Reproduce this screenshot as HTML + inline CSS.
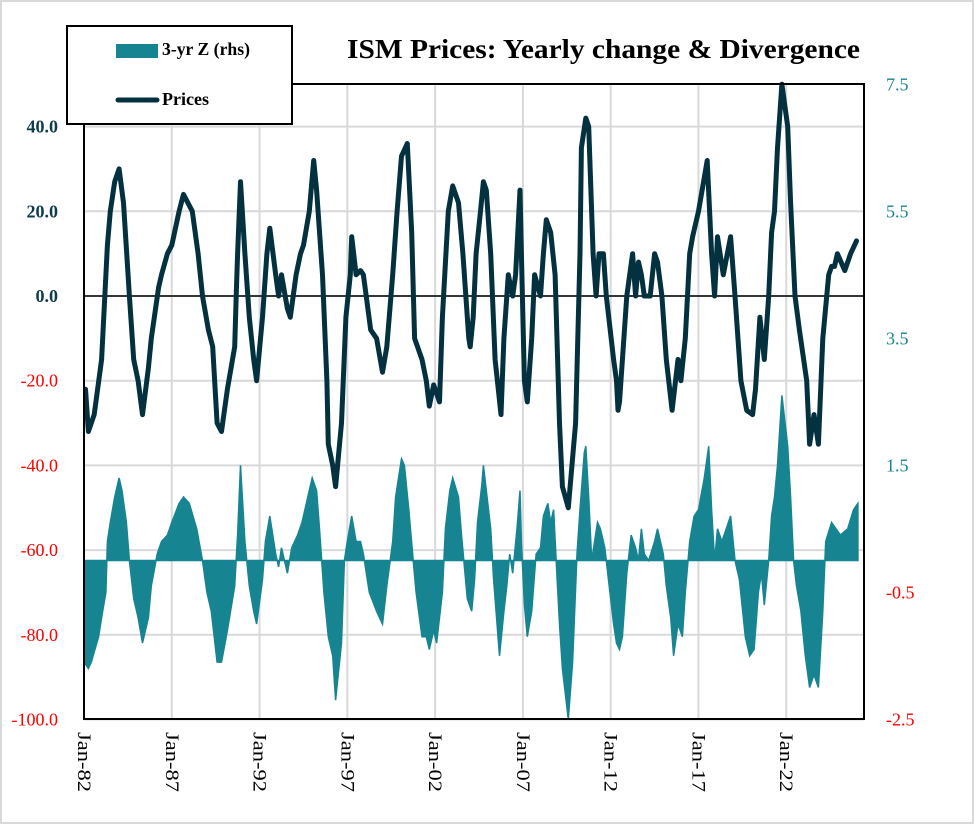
<!DOCTYPE html>
<html><head><meta charset="utf-8"><style>
html,body{margin:0;padding:0;background:#fff;}
#wrap{position:relative;width:974px;height:824px;box-sizing:border-box;border:2px solid #d9d9d9;}
svg{position:absolute;left:0;top:0;}
text{font-family:"Liberation Serif",serif;}
</style></head><body>
<div id="wrap">
<svg id="chart" width="974" height="824">
  <g id="grid"></g>
  <g id="bars"></g>
  <line x1="82" x2="862" y1="294" y2="294" stroke="#000" stroke-width="1.5"/>
  <g id="line"></g>
  <rect x="82" y="82" width="780" height="635" fill="none" stroke="#000" stroke-width="2"/>
  <g id="axes"></g>
  <text x="345" y="56" textLength="513" lengthAdjust="spacingAndGlyphs" font-size="27" font-weight="bold" fill="#000">ISM Prices: Yearly change &amp; Divergence</text>
  <g>
    <rect x="65" y="24" width="225" height="98" fill="#fff" stroke="#000" stroke-width="2"/>
    <rect x="114" y="42" width="42" height="14" fill="#178492"/>
    <text x="160" y="53" font-size="18" font-weight="bold" textLength="88" lengthAdjust="spacingAndGlyphs" fill="#000">3-yr Z (rhs)</text>
    <line x1="116" x2="155" y1="98" y2="98" stroke="#04313f" stroke-width="5" stroke-linecap="round"/>
    <text x="160" y="103" font-size="18" font-weight="bold" fill="#000">Prices</text>
  </g>
</svg>
</div>
<script>
// Prices: months since Jan-1982 and YoY values
const priceMonths=[1,3,7,12,16,18,21,24,27,31,34,37,40,44,46,51,53,57,60,65,68,74,78,81,85,88,91,94,98,103,104,105,107,110,113,116,118,122,125,127,131,133,135,139,141,145,148,150,154,157,159,163,166,167,170,172,176,179,182,183,186,189,191,196,200,204,207,211,214,217,221,224,226,231,234,236,239,243,245,249,252,256,259,263,264,266,268,271,273,275,278,281,285,287,290,293,295,298,299,301,303,306,308,312,314,316,319,322,325,327,331,336,339,340,343,345,348,350,352,355,357,362,364,365,366,371,375,377,379,381,383,387,390,392,395,398,402,406,408,411,414,416,420,426,429,431,433,437,442,445,449,453,457,459,462,465,468,470,472,474,477,481,483,486,489,494,496,499,502,505,509,511,513,515,520,524,528];
const priceValues=[-22,-32,-28,-15,12,20,27,30,22,0,-15,-20,-28,-17,-10,2,5,10,12,20,24,20,10,0,-8,-12,-30,-32,-22,-12,0,10,27,10,-5,-15,-20,-5,10,16,5,0,5,-3,-5,5,10,12,20,32,25,5,-20,-35,-40,-45,-30,-5,5,14,5,6,5,-8,-10,-18,-12,5,20,33,36,15,-10,-15,-20,-26,-21,-25,-5,20,26,22,10,-10,-12,-5,10,20,27,25,10,-15,-28,-10,5,0,5,25,10,-20,-25,-10,5,0,10,18,15,5,-30,-45,-50,-30,10,35,42,40,10,0,10,10,0,-15,-20,-27,-25,0,10,0,8,5,0,0,10,8,0,-15,-27,-15,-20,-10,10,14,20,32,10,0,14,5,14,0,-20,-27,-28,-22,-5,-15,0,15,20,35,50,40,22,0,-8,-20,-35,-28,-35,-10,5,7,7,10,6,10,13];
// 3-yr Z score (rhs)
const zMonths=[0,3,5,10,12,15,16,18,21,24,26,29,31,34,37,40,44,46,50,53,57,60,65,68,72,77,81,84,87,91,94,98,103,105,107,110,113,116,118,122,124,127,131,133,135,139,142,146,149,153,156,159,161,164,167,170,172,176,178,180,183,186,189,191,195,200,204,207,211,213,217,219,222,225,227,231,234,236,239,241,245,247,250,252,256,258,262,265,267,269,272,273,275,278,280,284,287,289,291,293,296,298,299,301,303,306,309,312,314,317,319,321,323,325,327,331,334,337,339,342,343,345,347,349,351,353,356,359,362,364,366,368,371,374,377,379,381,383,386,390,392,396,398,401,403,406,409,411,414,417,420,424,427,429,431,433,436,442,445,448,452,455,458,461,463,465,468,470,472,474,477,481,483,485,487,490,493,496,499,502,505,507,511,514,517,522,526,529];
const zValues=[-1.6,-1.7,-1.6,-1.2,-0.9,-0.5,0.3,0.6,1.0,1.3,1.1,0.6,0,-0.6,-0.9,-1.3,-0.9,-0.4,0.1,0.3,0.4,0.6,0.9,1.0,0.9,0.5,0,-0.5,-0.8,-1.6,-1.6,-1.1,-0.4,0.4,1.5,0.3,-0.4,-0.8,-1.0,-0.3,0.3,0.7,0.1,-0.1,0.2,-0.2,0.2,0.4,0.6,1.0,1.3,1.1,0.5,-0.5,-1.2,-1.5,-2.2,-1.3,0,0.3,0.7,0.3,0.3,0.1,-0.5,-0.8,-1.0,-0.4,0.3,1.0,1.6,1.5,0.8,0,-0.5,-1.2,-1.2,-1.4,-1.1,-1.3,-0.5,0.5,1.1,1.3,1.0,0.4,-0.6,-0.8,-0.3,0.6,1.2,1.5,1.1,0.5,-0.3,-1.5,-0.8,-0.4,0.1,-0.2,0.5,1.1,0.3,-0.7,-1.2,-0.8,0.1,0.2,0.7,0.9,0.6,0.8,-0.1,-1.0,-1.7,-2.5,-1.6,0.1,0.8,1.7,1.8,1.0,0,0.3,0.6,0.5,0.2,-0.4,-1.0,-1.3,-1.4,-1.2,-0.2,0.4,0.2,0,0.5,0.1,0,0.3,0.5,0.1,-0.4,-0.9,-1.5,-1.0,-1.2,-0.5,0.3,0.7,0.8,1.3,1.8,0.8,0,0.5,0.3,0.7,0,-0.3,-1.2,-1.5,-1.4,-0.5,-0.2,-0.7,0,0.7,1.0,1.5,2.6,1.8,1.0,0,-0.4,-0.8,-1.5,-2.0,-1.8,-2.0,-0.8,0.3,0.6,0.5,0.4,0.5,0.8,0.9];
const leftTicks=[40,20,0,-20,-40,-60,-80,-100];
const rightTicks=[7.5,5.5,3.5,1.5,-0.5,-2.5];
const xTickLabels=["Jan-82","Jan-87","Jan-92","Jan-97","Jan-02","Jan-07","Jan-12","Jan-17","Jan-22"];
const xTickMonths=[0,60,120,180,240,300,360,420,480];

const NS="http://www.w3.org/2000/svg";
const X0=82,PX=1.463;
const xs=m=>X0+m*PX;
const yL=v=>294-v*4.235;
const yR=v=>558.5-v*63.5;
function mk(tag,attrs,parent){const e=document.createElementNS(NS,tag);for(const k in attrs)e.setAttribute(k,attrs[k]);parent.appendChild(e);return e;}
const grid=document.getElementById('grid'),axes=document.getElementById('axes');

leftTicks.forEach(v=>{
  const l=mk('line',{x1:X0,x2:862,y1:yL(v),y2:yL(v),stroke:'#d9d9d9','stroke-width':2},grid);
  
  
  const t=mk('text',{x:56,y:yL(v)+6,'text-anchor':'end','font-size':18,'font-weight':v>=0?'bold':'normal',fill:v>=0?'#0f3b4a':'#ff0000'},axes);
  t.textContent=v.toFixed(1);
  
  
});
rightTicks.forEach(v=>{
  const t=mk('text',{x:884,y:yR(v)+6,'font-size':18,fill:v>=0?'#178492':'#ff0000'},axes);
  t.textContent=v.toFixed(1);
  
  
});
xTickMonths.forEach((m,i)=>{
  const x=xs(m);
  if(i>0){const l=mk('line',{x1:x,x2:x,y1:82,y2:717,stroke:'#d9d9d9','stroke-width':2},grid);
  
  }
  const t=mk('text',{x:0,y:0,'font-size':19,fill:'#000',textLength:60,lengthAdjust:'spacingAndGlyphs',transform:`translate(${x-6},730) rotate(90)`},axes);
  t.textContent=xTickLabels[i];
  
  
});

let d=`M${xs(zMonths[0])},${yR(0)}`;
zMonths.forEach((m,i)=>{d+=` L${xs(m).toFixed(1)},${yR(zValues[i]).toFixed(1)}`;});
d+=` L${xs(zMonths[zMonths.length-1])},${yR(0)} Z`;
const area=mk('path',{d:d,fill:'#178492',stroke:'#178492','stroke-width':1.5,'stroke-linejoin':'miter'},document.getElementById('bars'));



let p='';
priceMonths.forEach((m,i)=>{p+=(i?' L':'M')+xs(m).toFixed(1)+','+yL(priceValues[i]).toFixed(1);});
const pl=mk('path',{d:p,fill:'none',stroke:'#04313f','stroke-width':5,'stroke-linejoin':'round','stroke-linecap':'round'},document.getElementById('line'));


</script>
</body></html>
